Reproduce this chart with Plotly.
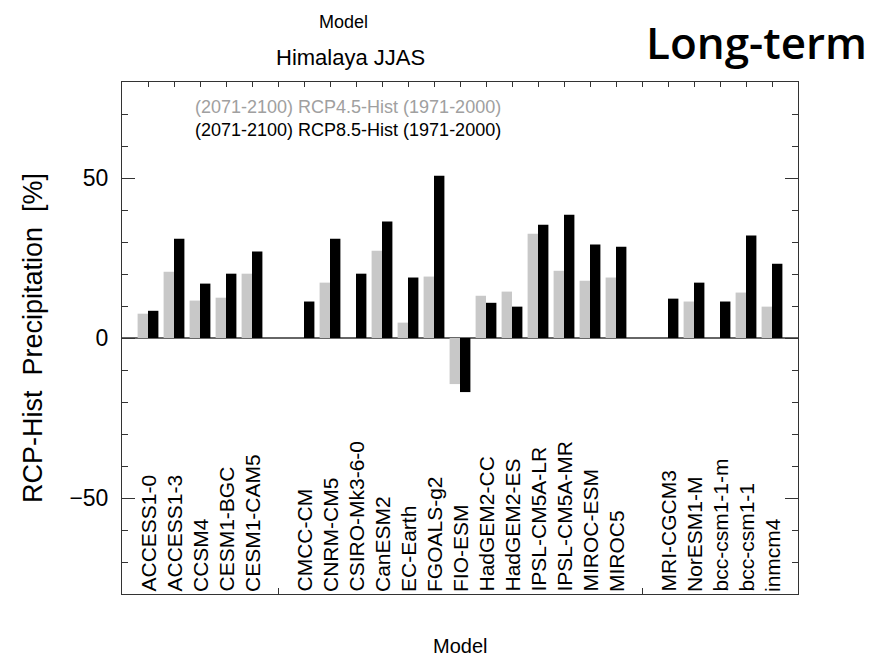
import plotly.graph_objects as go

# ---- data ----
slots = [1, 2, 3, 4, 5, 7, 8, 9, 10, 11, 12, 13, 14, 15, 16, 17, 18, 19, 21, 22, 23, 24, 25]
models = ["ACCESS1-0", "ACCESS1-3", "CCSM4", "CESM1-BGC", "CESM1-CAM5",
          "CMCC-CM", "CNRM-CM5", "CSIRO-Mk3-6-0", "CanESM2", "EC-Earth", "FGOALS-g2",
          "FIO-ESM", "HadGEM2-CC", "HadGEM2-ES", "IPSL-CM5A-LR", "IPSL-CM5A-MR",
          "MIROC-ESM", "MIROC5",
          "MRI-CGCM3", "NorESM1-M", "bcc-csm1-1-m", "bcc-csm1-1", "inmcm4"]
rcp45 = [7.6, 20.7, 11.7, 12.6, 20.1,
         None, 17.3, None, 27.3, 4.8, 19.2,
         -14.4, 13.2, 14.5, 32.6, 21.0,
         17.9, 18.9,
         None, 11.4, None, 14.2, 9.8]
rcp85 = [8.5, 31.0, 17.0, 20.1, 27.0,
         11.4, 31.0, 20.1, 36.4, 18.9, 50.7,
         -16.9, 11.0, 9.8, 35.4, 38.5,
         29.2, 28.5,
         12.3, 17.3, 11.4, 32.0, 23.2]
top_ticks = list(range(1, 26))
bottom_ticks = [6, 20]
y_major = [-50, 0, 50]
y_labels = ["−50", "0", "50"]

FONT = "Liberation Sans, Arial, sans-serif"
W, H = 893, 660
L, R, T, B = 122, 95, 82, 66
PW, PH = W - L - R, H - T - B


def px(x):
    return (x - L) / PW


def py(y):
    return (H - B - y) / PH


fig = go.Figure()
fig.add_trace(go.Bar(x=slots, y=rcp45, width=0.4, offset=-0.4,
                     marker=dict(color="#c8c8c8", line=dict(width=0)),
                     name="RCP4.5", showlegend=False))
fig.add_trace(go.Bar(x=slots, y=rcp85, width=0.4, offset=0.0,
                     marker=dict(color="#000000", line=dict(width=0)),
                     name="RCP8.5", showlegend=False))
# invisible traces to activate the mirrored axes
fig.add_trace(go.Scatter(x=top_ticks, y=[0] * len(top_ticks), mode="none",
                         xaxis="x2", yaxis="y", hoverinfo="skip", showlegend=False))
fig.add_trace(go.Scatter(x=top_ticks, y=[0] * len(top_ticks), mode="none",
                         xaxis="x", yaxis="y2", hoverinfo="skip", showlegend=False))

axcol = "#333333"
fig.update_layout(
    width=W, height=H,
    margin=dict(l=L, r=R, t=T, b=B, pad=0),
    paper_bgcolor="white", plot_bgcolor="white",
    barmode="overlay",
    font=dict(family=FONT, color="black"),
    xaxis=dict(range=[0, 26], showgrid=False, zeroline=False,
               showline=True, linecolor=axcol, linewidth=1,
               tickvals=bottom_ticks, ticks="inside", ticklen=6, tickcolor=axcol,
               showticklabels=False),
    xaxis2=dict(range=[0, 26], overlaying="x", side="top", showgrid=False,
                zeroline=False, showline=True, linecolor=axcol, linewidth=1,
                tickvals=top_ticks, ticks="inside", ticklen=5, tickcolor=axcol,
                showticklabels=False),
    yaxis=dict(range=[-80, 80], showgrid=False, zeroline=True,
               zerolinecolor="#666666", zerolinewidth=1.5,
               showline=True, linecolor=axcol, linewidth=1,
               tickvals=y_major, ticktext=y_labels, ticks="inside", ticklen=13,
               tickcolor=axcol, ticklabelstandoff=8,
               tickfont=dict(size=23, family=FONT, color="black"),
               minor=dict(dtick=10, tick0=0, ticks="inside", ticklen=6,
                          tickcolor=axcol, showgrid=False)),
    yaxis2=dict(range=[-80, 80], overlaying="y", side="right", showgrid=False,
                zeroline=False, showline=True, linecolor=axcol, linewidth=1,
                tickvals=y_major, ticks="inside", ticklen=13, tickcolor=axcol,
                showticklabels=False,
                minor=dict(dtick=10, tick0=0, ticks="inside", ticklen=6,
                           tickcolor=axcol, showgrid=False)),
)

ann = []
for s, m in zip(slots, models):
    ann.append(dict(x=s, y=-80, xref="x", yref="y", text=m, textangle=-90,
                    xanchor="center", yanchor="bottom", showarrow=False,
                    font=dict(size=21, family=FONT, color="black"), yshift=0))

texts = [
    ("Model", 343, 22, 18, "black", FONT),
    ("Himalaya JJAS", 350, 57, 22, "black", FONT),
    ("(2071-2100) RCP4.5-Hist (1971-2000)", 348, 107, 18, "#a0a0a0", FONT),
    ("(2071-2100) RCP8.5-Hist (1971-2000)", 348, 130, 18, "black", FONT),
    ("Model", 460, 646, 20, "black", FONT),
]
for t, x, y, s, c, f in texts:
    ann.append(dict(x=px(x), y=py(y), xref="paper", yref="paper", text=t,
                    xanchor="center", yanchor="middle", showarrow=False,
                    font=dict(size=s, family=f, color=c)))
ann.append(dict(x=px(756), y=py(42), xref="paper", yref="paper",
                text="Long-term", xanchor="center", yanchor="middle",
                showarrow=False,
                font=dict(size=44, family="Open Sans, Lato, sans-serif",
                          color="black", weight=600)))
ann.append(dict(x=px(33), y=py(338), xref="paper", yref="paper",
                text="RCP-Hist  Precipitation  [%]", textangle=-90,
                xanchor="center", yanchor="middle", showarrow=False,
                font=dict(size=27, family=FONT, color="black")))
fig.update_layout(annotations=ann)

fig.write_html("out.html")
